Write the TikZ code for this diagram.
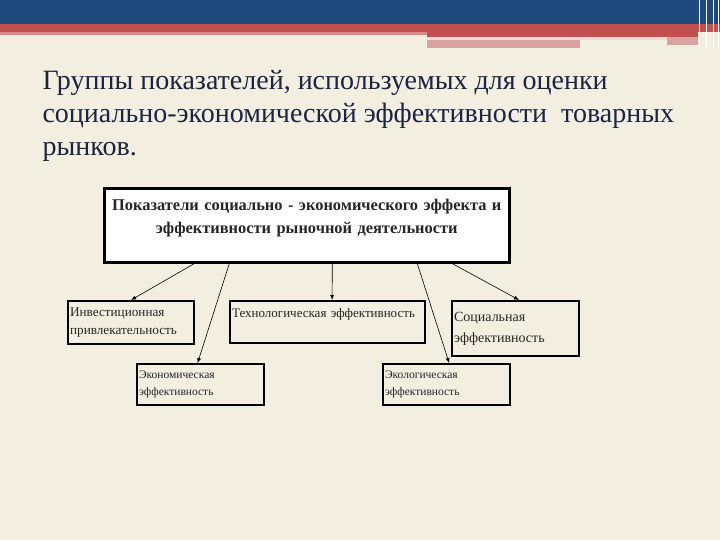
\documentclass[tikz,border=0pt]{standalone}
\usepackage{fontspec}
\setmainfont{Liberation Serif}
\usetikzlibrary{arrows.meta,positioning}

\definecolor{slidecream}{HTML}{F2EEE0}
\definecolor{slideblue}{HTML}{1F497D}
\definecolor{slidered}{HTML}{C0504D}
\definecolor{slidelightred}{HTML}{D98B89}
\definecolor{slidepink}{HTML}{DBA3A0}
\definecolor{titleink}{HTML}{1B2442}

\tikzset{
  box/.style={draw, line width=2.2pt, anchor=north west, align=left,
    inner xsep=2pt, inner ysep=1pt, text=black!85},
  link/.style={-{Latex[length=5pt,width=4pt]}, line width=0.6pt}
}

\begin{document}
\begin{tikzpicture}[x=1pt, y=-1pt]
        \useasboundingbox (0,0) rectangle (720,540);
        \fill[slidecream] (0,0) rectangle (720,540);
        % header bands
        \fill[slideblue] (0,0) rectangle (720,24);
        \fill[slidered] (0,24) rectangle (720,32);
        \fill[slidelightred] (0,32) rectangle (427,35);
        \fill[slidered] (427,32) rectangle (698,37);
        \fill[white!60!slidepink] (427,37) rectangle (667,40);
        \fill[slidepink] (427,40) rectangle (580,48);
        \fill[slidepink] (667,37) rectangle (698,45);
        \foreach \lx in {699,706,713,718}
          \draw[white, line width=0.8pt] (\lx,0) -- (\lx,48);

        \node[anchor=north west, align=left, text=titleink,
          font=\fontsize{28}{33}\selectfont] (title) at (39,67)
          {Группы показателей, используемых для оценки\\
           социально-экономической эффективности\ \ товарных\\
           рынков.};

        \node[box, fill=white, align=center, minimum width=405pt, minimum height=74pt,
          text width=399pt, line width=2.6pt,
          font=\bfseries\fontsize{16.4}{23}\selectfont] (main) at (103,187)
          {Показатели социально - экономического эффекта и\\
           эффективности рыночной деятельности\\[-6pt] \mbox{}};

        \node[box, minimum width=126pt, minimum height=43pt, text width=122pt,
          font=\fontsize{13.2}{18}\selectfont] (invest) at (67,300)
          {Инвестиционная\\привлекательность};
        \node[box, minimum width=195pt, minimum height=42pt, text width=191pt,
          font=\fontsize{13}{18}\selectfont] (tech) at (229,300)
          {Технологическая эффективность\\ \mbox{}};
        \node[box, minimum width=127pt, minimum height=55pt, text width=123pt,
          font=\fontsize{14}{21}\selectfont] (social) at (451,300)
          {Социальная\\эффективность};
        \node[box, minimum width=127pt, minimum height=41pt, text width=123pt,
          font=\fontsize{11.5}{17}\selectfont] (econ) at (136,363)
          {Экономическая\\эффективность};
        \node[box, minimum width=127pt, minimum height=41pt, text width=123pt,
          font=\fontsize{11.5}{17}\selectfont] (ecol) at (382,363)
          {Экологическая\\эффективность};

        \draw[link] ([xshift=-112.5pt]main.south) to (invest.north);
        \draw[link] ([xshift=-77.5pt]main.south) to ([xshift=-3pt]econ.north);
        \draw[link] ([xshift=25.5pt]main.south) to ([xshift=4.5pt]tech.north);
        \draw[link] ([xshift=110.5pt]main.south) to ([xshift=2.5pt]ecol.north);
        \draw[link] ([xshift=145.5pt]main.south) to ([xshift=3.5pt]social.north);
      \end{tikzpicture}
\end{document}
